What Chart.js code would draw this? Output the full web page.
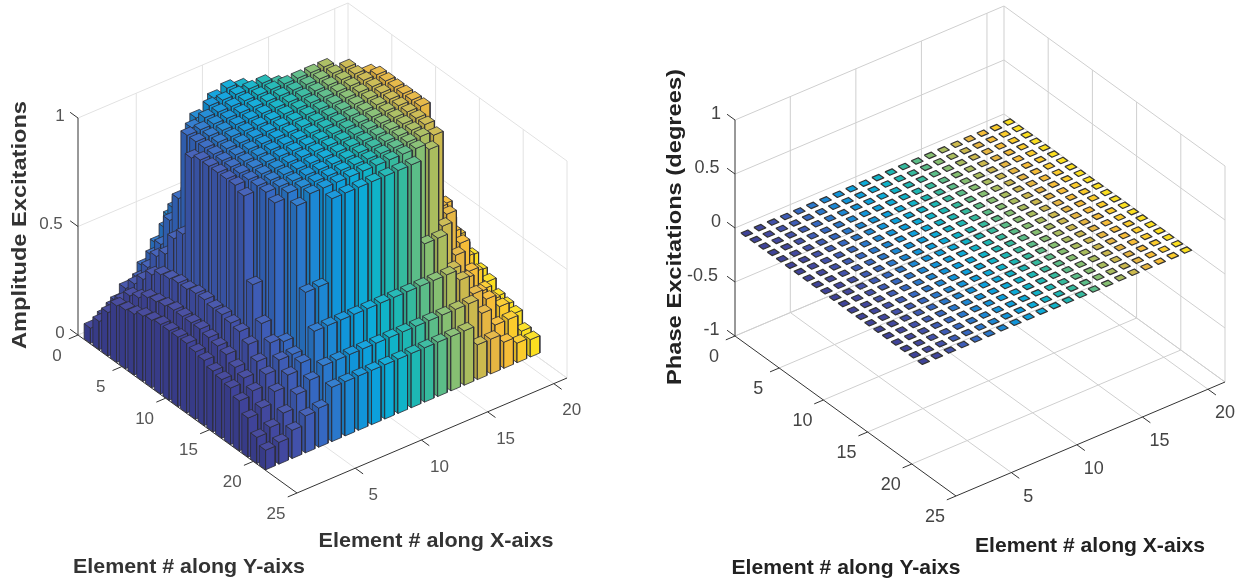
<!DOCTYPE html>
<html><head><meta charset="utf-8">
<script src="https://cdn.jsdelivr.net/npm/chart.js@4/dist/chart.umd.min.js"></script>
<style>html,body{margin:0;padding:0;background:#fff;overflow:hidden}
canvas{position:absolute;top:0}#cA{left:0;filter:blur(.5px)}#cB{left:627px}</style></head>
<body><canvas id="cA" width="627" height="588"></canvas><canvas id="cB" width="627" height="588"></canvas>
<script>
// Columns: element 1..21 along X; rows: element 1..21 along Y
const amplitudeRows = [
[.07,.1,.14,.18,.25,.33,.43,.45,.45,.45,.45,.45,.45,.45,.43,.33,.25,.18,.14,.1,.07],
[.13,.17,.23,.25,.33,.43,.53,.59,.6,.6,.6,.6,.6,.59,.53,.43,.33,.25,.2,.15,.11],
[.2,.23,.28,.33,.41,.55,.6,.6,.98,1,.98,.6,.6,.6,.6,.55,.42,.33,.26,.2,.14],
[.26,.28,.33,.41,.55,.6,.97,1,1,1,1,1,.97,.6,.6,.59,.59,.43,.33,.22,.16],
[.27,.3,.38,.45,.68,.98,1,1,1,1,1,1,1,1,1,1,.6,.59,.43,.27,.2],
[.28,.33,.41,.55,1,1,1,1,1,1,1,1,1,1,1,1,1,.59,.45,.31,.22],
[.3,.34,.42,.6,1,1,1,1,1,1,1,1,1,1,1,1,1,.98,.55,.38,.26],
[.31,.35,.43,.98,1,1,1,1,1,1,1,1,1,1,1,1,1,1,.57,.42,.28],
[.32,.36,.43,1,1,1,1,1,1,1,1,1,1,1,1,1,1,1,.58,.43,.29],
[.32,.36,.44,1,1,1,1,1,1,1,1,1,1,1,1,1,1,1,.58,.44,.3],
[.32,.36,.44,1,1,1,1,1,1,1,1,1,1,1,1,1,1,1,.58,.44,.3],
[.32,.36,.43,1,1,1,1,1,1,1,1,1,1,1,1,1,1,1,.58,.43,.29],
[.31,.35,.43,1,1,1,1,1,1,1,1,1,1,1,1,1,1,1,.57,.42,.28],
[.3,.34,.42,.98,1,1,1,1,1,1,1,1,1,1,1,1,1,.6,.55,.38,.26],
[.28,.33,.41,.6,1,1,1,1,1,1,1,1,1,1,1,1,1,.59,.45,.31,.22],
[.27,.3,.38,.45,.98,1,1,1,1,1,1,1,1,1,1,1,.98,.59,.43,.27,.2],
[.26,.28,.33,.39,.37,.97,1,1,1,1,1,1,1,1,1,.97,.59,.43,.33,.22,.16],
[.23,.25,.3,.34,.34,.6,.6,.98,.98,.98,.98,.98,.98,.98,.59,.59,.42,.35,.26,.2,.15],
[.18,.2,.25,.3,.33,.45,.45,.45,.45,.45,.45,.45,.45,.45,.45,.45,.4,.31,.26,.2,.14],
[.12,.14,.18,.24,.28,.32,.32,.32,.32,.32,.32,.32,.32,.32,.32,.32,.32,.25,.17,.17,.09],
[.09,.1,.13,.17,.18,.25,.25,.25,.25,.25,.25,.25,.25,.25,.25,.25,.16,.16,.12,.09,.08]
];
const phaseRows = [
[0,0,0,0,0,0,0,0,0,0,0,0,0,0,0,0,0,0,0,0,0],[0,0,0,0,0,0,0,0,0,0,0,0,0,0,0,0,0,0,0,0,0],
[0,0,0,0,0,0,0,0,0,0,0,0,0,0,0,0,0,0,0,0,0],[0,0,0,0,0,0,0,0,0,0,0,0,0,0,0,0,0,0,0,0,0],
[0,0,0,0,0,0,0,0,0,0,0,0,0,0,0,0,0,0,0,0,0],[0,0,0,0,0,0,0,0,0,0,0,0,0,0,0,0,0,0,0,0,0],
[0,0,0,0,0,0,0,0,0,0,0,0,0,0,0,0,0,0,0,0,0],[0,0,0,0,0,0,0,0,0,0,0,0,0,0,0,0,0,0,0,0,0],
[0,0,0,0,0,0,0,0,0,0,0,0,0,0,0,0,0,0,0,0,0],[0,0,0,0,0,0,0,0,0,0,0,0,0,0,0,0,0,0,0,0,0],
[0,0,0,0,0,0,0,0,0,0,0,0,0,0,0,0,0,0,0,0,0],[0,0,0,0,0,0,0,0,0,0,0,0,0,0,0,0,0,0,0,0,0],
[0,0,0,0,0,0,0,0,0,0,0,0,0,0,0,0,0,0,0,0,0],[0,0,0,0,0,0,0,0,0,0,0,0,0,0,0,0,0,0,0,0,0],
[0,0,0,0,0,0,0,0,0,0,0,0,0,0,0,0,0,0,0,0,0],[0,0,0,0,0,0,0,0,0,0,0,0,0,0,0,0,0,0,0,0,0],
[0,0,0,0,0,0,0,0,0,0,0,0,0,0,0,0,0,0,0,0,0],[0,0,0,0,0,0,0,0,0,0,0,0,0,0,0,0,0,0,0,0,0],
[0,0,0,0,0,0,0,0,0,0,0,0,0,0,0,0,0,0,0,0,0],[0,0,0,0,0,0,0,0,0,0,0,0,0,0,0,0,0,0,0,0,0],
[0,0,0,0,0,0,0,0,0,0,0,0,0,0,0,0,0,0,0,0,0]
];
const xColours = ['#3f4399','#42489f','#4251aa','#3e5cb6','#3568c2','#2a78cc','#1c88d4','#1195da','#0ca0dc','#0cabd8','#10b3c8','#1db7b4','#35ba9e','#5bbd88','#86bf72','#aabd5e','#cbb94e','#e6b642','#f6bd38','#fbcc2c','#fbdf20'];
const xTicks = [5,10,15,20];
const yTicks = [0,5,10,15,20,25];
const yGrid = [5,10,15,20];
const ampZTicks = [0,0.5,1];
const phaseZTicks = [-1,-0.5,0,0.5,1];
const xTitle = 'Element # along X-aixs';
const yTitle = 'Element # along Y-aixs';
const ampTitle = 'Amplitude Excitations';
const phaseTitle = 'Phase Excitations (degrees)';

function shade(hex,f){const n=parseInt(hex.slice(1),16);const c=[n>>16,(n>>8)&255,n&255].map(v=>Math.round(f>=1?v+(255-v)*(f-1):v*f));return `rgb(${c[0]},${c[1]},${c[2]})`;}

function projector(v){ return (x,y,z)=>({
  x: v.L[0]+(x-v.x0)*(v.R[0]-v.F[0])/(v.x1-v.x0)+y*(v.F[0]-v.L[0])/25,
  y: v.L[1]+(x-v.x0)*(v.R[1]-v.F[1])/(v.x1-v.x0)+y*(v.F[1]-v.L[1])/25-(z-v.z0)*v.zh/(v.z1-v.z0)
});}

function lineSet(pts,color,w){return {type:'line',data:pts,borderColor:color,borderWidth:w,pointRadius:0,tension:0,fill:false,clip:false};}
function polySet(pts,fillC,edge,w){return {type:'line',data:pts.concat([pts[0]]),backgroundColor:fillC,borderColor:edge,borderWidth:w,pointRadius:0,tension:0,fill:'shape',clip:false,borderJoinStyle:'round'};}

function frame(P,v,zTicks,gridC,gridW,axisC){
  const out=[],g=(a,b)=>out.push(lineSet([a,b],gridC,gridW));
  const {x0,x1,z0,z1}=v;
  zTicks.forEach(z=>{g(P(x0,0,z),P(x1,0,z));g(P(x1,0,z),P(x1,25,z));});
  xTicks.forEach(x=>{g(P(x,0,z0),P(x,25,z0));g(P(x,0,z0),P(x,0,z1));});
  yGrid.forEach(y=>{g(P(x0,y,z0),P(x1,y,z0));g(P(x1,y,z0),P(x1,y,z1));});
  g(P(x1,0,z0),P(x1,0,z1));g(P(x1,25,z0),P(x1,25,z1));
  g(P(x0,0,z0),P(x1,0,z0));g(P(x1,0,z0),P(x1,25,z0));
  const a=(p,q)=>out.push(lineSet([p,q],axisC,1));
  a(P(x0,0,z0),P(x0,0,z1));a(P(x0,0,z0),P(x0,25,z0));a(P(x0,25,z0),P(x1,25,z0));
  zTicks.forEach(z=>a(P(x0,0,z),P(x0,-0.9,z)));
  yTicks.forEach(y=>a(P(x0,y,z0),P(x0-0.7,y,z0)));
  xTicks.forEach(x=>a(P(x,25,z0),P(x,25.9,z0)));
  return out;
}
// painter's order, far bars first: x descending, y ascending
function bars(P,rows,half,base,withSides,edge,ew){
  const far=[];
  for(let i=rows[0].length-1;i>=0;i--){
    for(let j=0;j<rows.length;j++){
      const x=i+1,y=j+1,z=rows[j][i],c=xColours[i];
      if(withSides){
        far.push(polySet([P(x-half,y-half,z),P(x-half,y+half,z),P(x-half,y+half,base),P(x-half,y-half,base)],shade(c,.88),edge,ew));
        far.push(polySet([P(x-half,y+half,z),P(x+half,y+half,z),P(x+half,y+half,base),P(x-half,y+half,base)],shade(c,1),edge,ew));
      }
      far.push(polySet([P(x-half,y-half,z),P(x+half,y-half,z),P(x+half,y+half,z),P(x-half,y+half,z)],withSides?shade(c,1.05):c,edge,ew));
    }
  }
  return far;
}
const textPlugin={id:'texts',afterDraw(chart,_,o){
  const c=chart.ctx,sx=chart.scales.x,sy=chart.scales.y;
  o.items.forEach(t=>{
    c.save();c.font=t.font;c.fillStyle=t.color;c.textAlign='center';c.textBaseline='middle';
    c.translate(sx.getPixelForValue(t.x),sy.getPixelForValue(t.y));
    if(t.rot)c.rotate(t.rot);
    if(t.fit){c.scale(t.fit/c.measureText(t.s).width,1);}
    c.fillText(t.s,0,0);c.restore();
  });
}};
function make(id,xmin,datasets,items){
  return new Chart(document.getElementById(id),{
    type:'line',
    data:{datasets},
    plugins:[textPlugin],
    options:{responsive:false,animation:false,parsing:false,normalized:true,events:[],
      layout:{padding:0},
      scales:{x:{type:'linear',min:xmin,max:xmin+627,display:false},y:{type:'linear',min:0,max:588,reverse:true,display:false}},
      plugins:{legend:{display:false},tooltip:{enabled:false},texts:{items}}}
  });
}
const vA={L:[78,335],F:[297,493],R:[567,378],x0:.6,x1:21,z0:0,z1:1,zh:217};
const vB={L:[735,336],F:[956,496],R:[1225,382],x0:.78,x1:21.3,z0:-1,z1:1,zh:216};
const PA=projector(vA),PB=projector(vB);
function labels(P,v,zT,col,tf,offs){
  const it=[];
  const {x0,z0}=v;
  zT.forEach(z=>{const p=P(x0,0,z);it.push({s:String(z),x:p.x+offs.z[0]-(String(z).length>1?(String(z).length-1)*4.5:0),y:p.y+offs.z[1],font:tf,color:col});});
  yTicks.forEach(y=>{const p=P(x0,y,z0);it.push({s:String(y),x:p.x+offs.y[0],y:p.y+offs.y[1],font:tf,color:col});});
  xTicks.forEach(x=>{const p=P(x,25,z0);it.push({s:String(x),x:p.x+offs.x[0],y:p.y+offs.x[1],font:tf,color:col});});
  return it;
}
const bold='bold 21px "Liberation Sans"';
const itemsA=labels(PA,vA,ampZTicks,'#555',' 17px "Liberation Sans"',{z:[-18,-2],y:[-21,21],x:[18,27]}).concat([
 {s:ampTitle,x:20,y:225,rot:-Math.PI/2,font:bold,color:'#333',fit:248},
 {s:xTitle,x:436,y:541,font:bold,color:'#333',fit:235},
 {s:yTitle,x:189,y:567,font:bold,color:'#333',fit:232}]);
const itemsB=labels(PB,vB,phaseZTicks,'#444',' 18px "Liberation Sans"',{z:[-19,-6],y:[-21,21],x:[17,24]}).concat([
 {s:phaseTitle,x:675,y:227,rot:-Math.PI/2,font:bold,color:'#222',fit:316},
 {s:xTitle,x:1090,y:546,font:bold,color:'#222',fit:230},
 {s:yTitle,x:846,y:568,font:bold,color:'#222',fit:229}]);
// Chart.js paints the last dataset first, so the frame and the far bars sit at the end
make('cA',0,frame(PA,vA,ampZTicks,'#e2e2e2',1,'#333').concat(bars(PA,amplitudeRows,.36,0,true,'rgba(45,45,55,.8)',1)).reverse(),itemsA);
make('cB',627,frame(PB,vB,phaseZTicks,'#cfcfcf',1,'#333').concat(bars(PB,phaseRows,.27,0,false,'#333',1.2)).reverse(),itemsB);
</script></body></html>
